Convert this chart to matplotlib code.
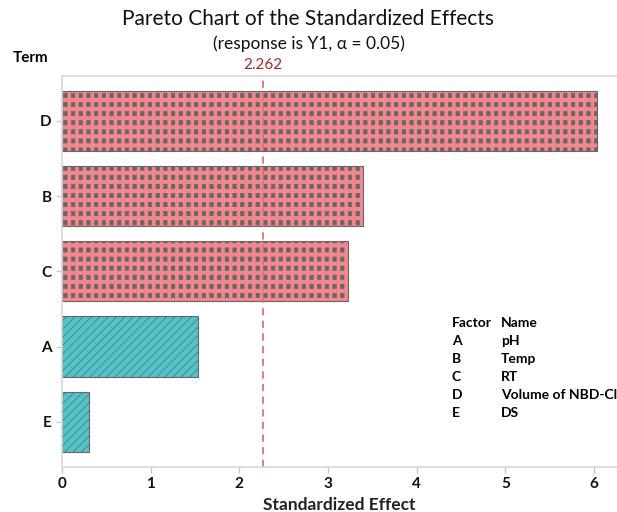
import matplotlib
matplotlib.use('Agg')
import matplotlib.pyplot as plt
import matplotlib.hatch as mhatch
from matplotlib.path import Path
import numpy as np


terms = ['D', 'B', 'C', 'A', 'E']
effects = [6.03, 3.40, 3.23, 1.53, 0.30]
critical = 2.262
factors = ['A', 'B', 'C', 'D', 'E']
names = ['pH', 'Temp', 'RT', 'Volume of NBD-Cl', 'DS']


class SquareGrid(mhatch.HatchPatternBase):
    # small hollow squares on a regular grid (used for the 'o' hatch)
    def __init__(self, hatch, density):
        n = hatch.count('o')
        self.nx = 13 * n
        self.ny = 11 * n
        self.num_vertices = self.nx * self.ny * 5

    def set_vertices_and_codes(self, vertices, codes):
        hw, hh = 0.017, 0.021
        k = 0
        for i in range(self.nx):
            for j in range(self.ny):
                cx = (i + 0.5) / self.nx
                cy = (j + 0.5) / self.ny
                vertices[k:k + 5] = [[cx - hw, cy - hh], [cx + hw, cy - hh],
                                     [cx + hw, cy + hh], [cx - hw, cy + hh],
                                     [cx - hw, cy - hh]]
                codes[k:k + 5] = [Path.MOVETO, Path.LINETO, Path.LINETO,
                                  Path.LINETO, Path.CLOSEPOLY]
                k += 5


mhatch._hatch_types = [t for t in mhatch._hatch_types
                       if t is not mhatch.SmallCircles] + [SquareGrid]

plt.rcParams['font.family'] = ['Lato', 'DejaVu Sans']
plt.rcParams['hatch.linewidth'] = 0.5

fig = plt.figure(figsize=(6.17, 5.12), dpi=100)
ax = fig.add_axes([0.1005, 0.088, 0.8995, 0.764])

pos = np.arange(len(terms))
for p, v in zip(pos, effects):
    if v > critical:
        ax.barh(p, v, height=0.8, color='#F2878D', edgecolor='#666666',
                linewidth=0.8, hatch='o')
    else:
        ax.barh(p, v, height=0.8, color='#4EC5C9', edgecolor='#666666',
                linewidth=0.8, hatch='////')

ax.axvline(critical, color='#E0707A', linestyle=(0, (4, 3)), linewidth=1.3)
ax.text(critical, -0.65, '2.262', color='#A0262C', ha='center', va='bottom',
        fontsize=11)

ax.set_xlim(0, 6.26)
ax.set_ylim(4.6, -0.6)
ax.set_yticks(pos)
ax.set_yticklabels(terms, fontsize=11, fontweight='bold')
ax.set_xticks(range(7))
ax.set_xticklabels([str(i) for i in range(7)], fontsize=11, fontweight='bold')
ax.tick_params(colors='#c8c8c8', labelcolor='#111111', length=4, width=1)
for s in ['left', 'top', 'bottom']:
    ax.spines[s].set_color('#d8d8d8')
    ax.spines[s].set_linewidth(1.2)
ax.spines['right'].set_visible(False)

ax.set_xlabel('Standardized Effect', fontsize=12.5, fontweight='bold', labelpad=4,
              color='#222222')

fig.text(0.5, 0.963, 'Pareto Chart of the Standardized Effects', ha='center',
         va='center', fontsize=15, color='#111111')
fig.text(0.5, 0.914, '(response is Y1, \u03b1 = 0.05)', ha='center',
         va='center', fontsize=12.5, color='#111111')
fig.text(0.02, 0.886, 'Term', ha='left', va='center', fontsize=11,
         fontweight='bold')

# factor legend
lx1, lx2 = 452 / 617, 501 / 617
ly = 1 - 323 / 512
dy = 18 / 512
fig.text(lx1, ly, 'Factor', fontsize=10, fontweight='bold', va='center')
fig.text(lx2, ly, 'Name', fontsize=10, fontweight='bold', va='center')
for i, (f, n) in enumerate(zip(factors, names)):
    fig.text(lx1, ly - (i + 1) * dy, f, fontsize=10, fontweight='bold', va='center')
    fig.text(lx2, ly - (i + 1) * dy, n, fontsize=10, fontweight='bold', va='center')

fig.savefig('out.png', dpi=100)
